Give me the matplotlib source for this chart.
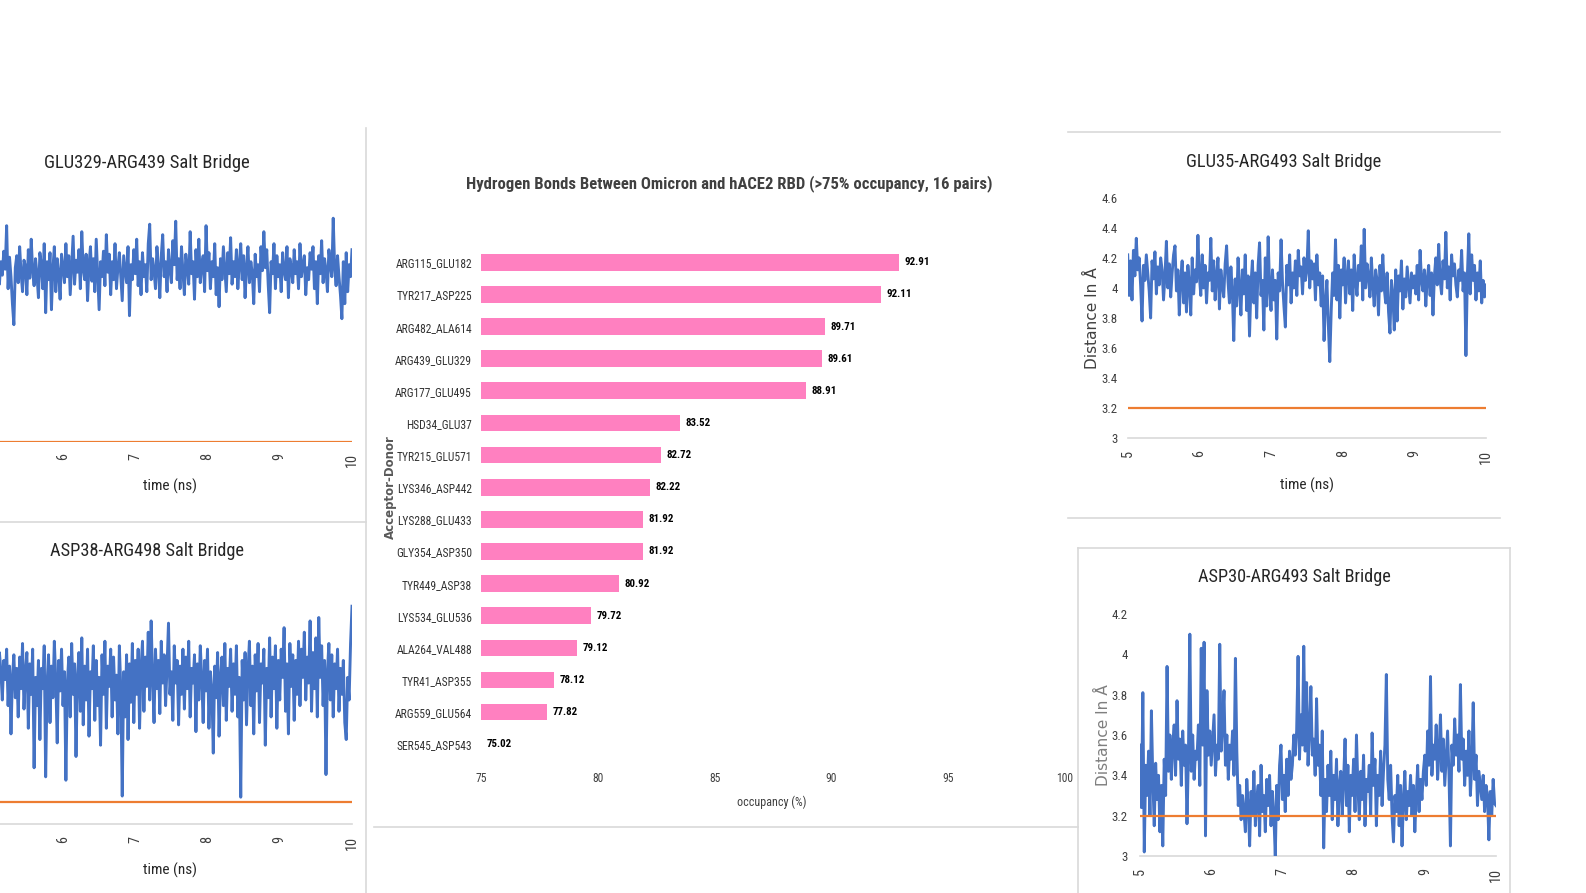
import matplotlib
matplotlib.use("Agg")
import matplotlib.pyplot as plt
from matplotlib import font_manager as fm
from matplotlib.lines import Line2D
import numpy as np

# ---------------------------------------------------------------- data
pairs = ["ARG115_GLU182", "TYR217_ASP225", "ARG482_ALA614", "ARG439_GLU329",
         "ARG177_GLU495", "HSD34_GLU37", "TYR215_GLU571", "LYS346_ASP442",
         "LYS288_GLU433", "GLY354_ASP350", "TYR449_ASP38", "LYS534_GLU536",
         "ALA264_VAL488", "TYR41_ASP355", "ARG559_GLU564", "SER545_ASP543"]
occupancy = [92.91, 92.11, 89.71, 89.61, 88.91, 83.52, 82.72, 82.22,
             81.92, 81.92, 80.92, 79.72, 79.12, 78.12, 77.82, 75.02]
occ_ticks = [75, 80, 85, 90, 95, 100]

time_ticks = [5, 6, 7, 8, 9, 10]
salt_cutoff = 3.2  # Å

# salt-bridge distances (Å), one sample every 20 ps from 5 to 10 ns
glu329_arg439 = [
    4.38, 4.52, 4.28, 4.45, 4.33, 4.56, 4.25, 4.40, 4.31, 4.47,
    4.35, 4.64, 4.22, 4.43, 4.30, 4.12, 3.98, 4.36, 4.44, 4.26,
    4.50, 4.32, 4.20, 4.41, 4.37, 4.18, 4.48, 4.29, 4.55, 4.34,
    4.24, 4.42, 4.31, 4.16, 4.46, 4.38, 4.22, 4.52, 4.06, 4.40,
    4.28, 4.46, 4.08, 4.35, 4.50, 4.20, 4.42, 4.32, 4.15, 4.45,
    4.36, 4.26, 4.52, 4.30, 4.44, 4.18, 4.38, 4.57, 4.25, 4.41,
    4.33, 4.48, 4.22, 4.60, 4.35, 4.28, 4.45, 4.14, 4.38, 4.50,
    4.27, 4.42, 4.20, 4.55, 4.32, 4.08, 4.40, 4.30, 4.47, 4.24,
    4.58, 4.33, 4.45, 4.18, 4.40, 4.28, 4.52, 4.22, 4.36, 4.46,
    4.30, 4.14, 4.44, 4.35, 4.26, 4.50, 4.04, 4.38, 4.28, 4.48,
    4.32, 4.55, 4.24, 4.40, 4.18, 4.46, 4.30, 4.38, 4.20, 4.52,
    4.65, 4.28, 4.42, 4.34, 4.22, 4.50, 4.36, 4.16, 4.44, 4.58,
    4.30, 4.40, 4.20, 4.48, 4.35, 4.26, 4.54, 4.38, 4.67, 4.28,
    4.42, 4.22, 4.50, 4.33, 4.18, 4.45, 4.36, 4.25, 4.60, 4.32,
    4.40, 4.15, 4.48, 4.30, 4.55, 4.26, 4.38, 4.44, 4.20, 4.64,
    4.34, 4.46, 4.22, 4.40, 4.30, 4.52, 4.18, 4.36, 4.10, 4.42,
    4.28, 4.50, 4.35, 4.20, 4.46, 4.32, 4.56, 4.25, 4.40, 4.30,
    4.48, 4.22, 4.38, 4.52, 4.28, 4.44, 4.16, 4.36, 4.50, 4.26,
    4.40, 4.32, 4.12, 4.45, 4.30, 4.38, 4.20, 4.50, 4.34, 4.60,
    4.36, 4.48, 4.25, 4.06, 4.40, 4.32, 4.52, 4.22, 4.44, 4.30,
    4.38, 4.20, 4.46, 4.34, 4.28, 4.50, 4.16, 4.42, 4.36, 4.26,
    4.48, 4.32, 4.40, 4.22, 4.52, 4.30, 4.38, 4.44, 4.18, 4.36,
    4.28, 4.46, 4.35, 4.50, 4.22, 4.40, 4.12, 4.44, 4.32, 4.54,
    4.26, 4.42, 4.34, 4.20, 4.48, 4.38, 4.30, 4.69, 4.36, 4.24,
    4.44, 4.30, 4.18, 4.02, 4.40, 4.12, 4.46, 4.20, 4.38, 4.30,
    4.48]

asp38_arg498 = [
    4.62, 4.30, 4.75, 4.48, 4.70, 4.15, 4.52, 4.36, 4.10, 4.45,
    4.28, 4.55, 4.05, 4.40, 3.80, 4.30, 4.50, 4.12, 4.38, 3.95,
    4.48, 4.20, 4.60, 4.02, 4.35, 4.52, 3.85, 4.42, 4.15, 4.55,
    3.50, 4.30, 4.05, 4.45, 3.75, 4.38, 4.20, 4.58, 3.42, 4.25,
    4.50, 3.90, 4.40, 4.12, 4.62, 4.28, 3.72, 4.45, 4.18, 4.55,
    4.05, 4.35, 3.39, 4.25, 4.48, 3.95, 4.60, 4.15, 4.42, 3.60,
    4.30, 4.52, 4.00, 4.65, 3.88, 4.40, 4.10, 4.55, 3.78, 4.35,
    4.20, 4.58, 3.92, 4.45, 4.05, 4.30, 3.70, 4.50, 4.15, 4.62,
    3.85, 4.40, 4.22, 4.55, 3.95, 4.48, 4.10, 4.32, 3.80, 4.58,
    4.20, 3.25, 4.35, 3.95, 4.50, 3.75, 4.42, 4.08, 4.60, 3.90,
    4.45, 4.15, 4.55, 3.85, 4.38, 4.62, 4.00, 4.48, 4.22, 4.70,
    4.10, 4.80, 4.30, 3.90, 4.55, 4.20, 4.45, 3.98, 4.62, 4.25,
    4.50, 4.05, 4.40, 4.78, 4.15, 4.35, 3.92, 4.58, 4.25, 4.45,
    3.88, 4.40, 4.15, 4.55, 4.02, 4.48, 4.20, 4.62, 3.95, 4.38,
    4.25, 4.50, 3.82, 4.42, 4.10, 4.58, 4.30, 3.90, 4.45, 4.18,
    4.55, 3.85, 4.35, 4.20, 3.63, 4.40, 4.12, 4.52, 3.78, 4.30,
    4.48, 4.05, 4.60, 3.92, 4.38, 4.22, 4.55, 4.00, 4.42, 4.15,
    4.58, 3.95, 4.30, 3.24, 4.45, 4.10, 4.52, 3.88, 4.35, 4.62,
    4.05, 4.40, 3.80, 4.50, 4.18, 4.60, 3.90, 4.42, 4.25, 4.55,
    3.70, 4.38, 4.12, 4.65, 3.95, 4.48, 4.20, 4.58, 3.85, 4.45,
    4.10, 4.55, 4.30, 4.74, 4.00, 4.42, 3.80, 4.60, 4.22, 4.50,
    3.92, 4.45, 4.15, 4.62, 4.05, 4.55, 4.30, 4.70, 4.10, 4.48,
    4.25, 4.80, 4.00, 4.52, 4.20, 4.65, 3.95, 4.83, 4.30, 4.58,
    4.05, 4.45, 3.44, 4.35, 4.60, 4.10, 4.50, 3.95, 4.42, 4.20,
    4.55, 4.00, 4.38, 4.15, 4.45, 3.90, 3.75, 4.30, 4.10, 4.60,
    4.93]

glu35_arg493 = [
    4.22, 3.95, 4.18, 3.92, 4.25, 4.08, 4.33, 4.12, 4.20, 4.02,
    3.78, 4.15, 4.05, 4.22, 4.10, 3.98, 3.80, 4.18, 4.06, 4.24,
    3.96, 4.14, 4.02, 4.20, 4.12, 3.92, 4.08, 4.31, 4.00, 4.16,
    3.94, 4.10, 4.22, 4.28, 3.98, 4.12, 3.82, 4.06, 4.18, 3.90,
    4.10, 3.84, 4.15, 4.02, 3.82, 4.20, 3.96, 4.12, 4.04, 4.35,
    4.08, 3.95, 4.22, 4.00, 4.15, 3.90, 4.10, 4.05, 4.33, 3.98,
    4.18, 3.92, 4.08, 4.20, 3.86, 4.12, 4.02, 3.94, 4.16, 4.28,
    4.04, 3.90, 4.14, 3.98, 3.65, 4.06, 3.88, 4.20, 4.00, 3.82,
    4.12, 3.96, 4.22, 3.85, 4.08, 3.68, 4.02, 4.18, 3.90, 4.10,
    3.80, 4.15, 4.30, 3.95, 4.05, 3.72, 4.20, 3.88, 4.34, 4.00,
    3.85, 4.12, 3.92, 4.05, 3.66, 4.10, 3.98, 4.32, 4.04, 3.88,
    3.74, 4.15, 4.02, 4.22, 3.90, 4.10, 4.00, 4.18, 3.95, 4.25,
    4.08, 4.14, 3.96, 4.20, 4.05, 4.12, 4.38, 4.00, 4.18, 4.06,
    4.16, 3.92, 4.22, 4.02, 4.10, 3.88, 4.08, 3.65, 3.90, 4.05,
    3.75, 3.51, 3.85, 4.10, 3.95, 4.32, 3.92, 4.15, 3.80, 4.12,
    4.02, 4.20, 3.90, 4.08, 4.18, 3.96, 4.12, 3.85, 4.22, 4.05,
    3.95, 4.15, 4.05, 4.28, 3.92, 4.39, 4.00, 4.16, 4.08, 3.94,
    4.20, 4.02, 3.88, 4.12, 4.05, 3.82, 4.15, 3.98, 4.22, 4.00,
    3.90, 4.10, 3.84, 3.70, 4.05, 3.95, 3.72, 4.12, 3.78, 4.08,
    3.98, 4.18, 3.86, 4.06, 3.94, 4.14, 4.02, 3.90, 4.10, 4.00,
    4.08, 3.96, 4.15, 3.92, 4.25, 4.05, 3.98, 4.12, 3.88, 4.06,
    4.15, 3.95, 4.10, 3.82, 4.08, 4.20, 4.02, 4.29, 4.05, 3.96,
    4.18, 4.06, 4.37, 4.00, 4.14, 3.92, 4.22, 4.08, 4.16, 4.02,
    3.94, 4.12, 4.05, 4.25, 3.98, 4.10, 3.55, 4.08, 4.36, 3.96,
    4.22, 4.05, 4.15, 3.92, 4.10, 3.98, 4.18, 3.90, 4.05, 3.94,
    4.02]

asp30_arg493 = [
    3.55, 3.24, 3.81, 3.02, 3.45, 3.30, 3.52, 3.20, 3.72, 3.38,
    3.15, 3.46, 3.28, 3.40, 3.12, 3.35, 3.05, 3.48, 3.30, 3.94,
    3.42, 3.60, 3.38, 3.55, 3.65, 3.40, 3.77, 3.48, 3.58, 3.35,
    3.62, 3.45, 3.55, 3.16, 3.50, 4.10, 3.42, 3.60, 3.38, 3.52,
    3.48, 3.65, 3.35, 4.03, 3.55, 4.06, 3.10, 3.82, 3.50, 3.62,
    3.45, 3.58, 3.70, 3.40, 3.55, 3.48, 4.05, 3.52, 3.65, 3.82,
    3.45, 3.60, 3.38, 3.55, 3.48, 3.62, 3.40, 3.98, 3.52, 3.25,
    3.35, 3.18, 3.30, 3.22, 3.12, 3.38, 3.25, 3.05, 3.32, 3.20,
    3.42, 3.15, 3.28, 3.35, 3.10, 3.45, 3.22, 3.30, 3.12, 3.38,
    3.25, 3.40, 3.15, 3.32, 3.20, 3.00, 3.35, 3.18, 3.45, 3.55,
    3.28, 3.40, 3.22, 3.48, 3.30, 3.52, 3.38, 3.45, 3.60, 3.50,
    3.62, 3.99, 3.48, 3.70, 3.55, 4.04, 3.52, 3.86, 3.45, 3.62,
    3.84, 3.50, 3.58, 3.40, 3.78, 3.45, 3.55, 3.30, 3.62, 3.04,
    3.38, 3.22, 3.45, 3.30, 3.52, 3.18, 3.40, 3.28, 3.48, 3.15,
    3.35, 3.42, 3.20, 3.38, 3.58, 3.25, 3.45, 3.12, 3.40, 3.30,
    3.48, 3.22, 3.60, 3.35, 3.18, 3.42, 3.28, 3.50, 3.15, 3.38,
    3.32, 3.45, 3.20, 3.61, 3.35, 3.48, 3.15, 3.40, 3.30, 3.52,
    3.25, 3.42, 3.55, 3.90, 3.38, 3.28, 3.45, 3.20, 3.07, 3.30,
    3.22, 3.40, 3.15, 3.35, 3.05, 3.28, 3.42, 3.18, 3.32, 3.25,
    3.40, 3.20, 3.35, 3.12, 3.30, 3.45, 3.22, 3.38, 3.28, 3.42,
    3.50, 3.35, 3.62, 3.45, 3.89, 3.40, 3.55, 3.48, 3.65, 3.38,
    3.52, 3.70, 3.42, 3.58, 3.35, 3.48, 3.62, 3.40, 3.05, 3.55,
    3.45, 3.68, 3.50, 3.60, 3.42, 3.85, 3.48, 3.58, 3.35, 3.52,
    3.40, 3.62, 3.30, 3.45, 3.76, 3.38, 3.50, 3.25, 3.42, 3.35,
    3.28, 3.40, 3.22, 3.35, 3.30, 3.08, 3.32, 3.20, 3.38, 3.26,
    3.25]

# ---------------------------------------------------------------- style
W, H = 1586, 893
BLUE = "#4472C4"
ORANGE = "#ED7D31"
PINK = "#FF80C0"
RULE = "#D9D9D9"
WIDE = "DejaVu Sans"


def pick_narrow():
    """Narrowest sans family available, with the stretch to request."""
    fonts = fm.fontManager.ttflist
    names = {f.name for f in fonts}
    for cand in ("Liberation Sans Narrow", "Roboto Condensed",
                 "Noto Sans Condensed", "Open Sans Condensed",
                 "DejaVu Sans Condensed"):
        if cand in names:
            return cand, "normal"
    for fam in ("Roboto", "Noto Sans", "Open Sans", "DejaVu Sans"):
        for f in fonts:
            if f.name == fam and str(f.stretch) in ("condensed", "semi-condensed",
                                                    "extra-condensed"):
                return fam, "condensed"
    return "Lato", "normal"


NARROW, NSTRETCH = pick_narrow()
NKW = dict(family=NARROW, fontstretch=NSTRETCH)

fig = plt.figure(figsize=(W / 100, H / 100), dpi=100)
fig.patch.set_facecolor("white")
renderer = fig.canvas.get_renderer()


def fit(s, width_px, grow=1.0, **kw):
    """Font size (pt) at which string s is width_px pixels wide, times grow."""
    t = fig.text(0, 0, s, fontsize=20, **kw)
    w = t.get_window_extent(renderer).width
    t.remove()
    return 20 * width_px / w * grow


def rect(left, top, right, bottom):
    """Axes rectangle from pixel edges (origin at top-left)."""
    return [left / W, 1 - bottom / H, (right - left) / W, (bottom - top) / H]


def ftext(x, y, s, **kw):
    fig.text(x / W, 1 - y / H, s, ha="center", va="center", **kw)


def rule(x0, y0, x1, y1):
    fig.add_artist(Line2D([x0 / W, x1 / W], [1 - y0 / H, 1 - y1 / H],
                          transform=fig.transFigure, color=RULE, lw=1.2))


TICK_SIZE = fit("10", 14, **NKW)
YTICK_SIZE = fit("4.6", 15, grow=1.08, **NKW)


def salt_panel(box, ylim, yticks, values, xticks, axis_line=True,
               ylabels=True, ypad=8):
    ax = fig.add_axes(rect(*box))
    t = np.linspace(5, 10, len(values))
    ax.plot(t, values, color=BLUE, lw=2.1, solid_joinstyle="round", zorder=3)
    ax.plot([5, 10], [salt_cutoff, salt_cutoff], color=ORANGE, lw=1.6, zorder=4)
    ax.set_xlim(5, 10)
    ax.set_ylim(*ylim)
    for s in ("top", "right", "left"):
        ax.spines[s].set_visible(False)
    ax.spines["bottom"].set_color(RULE)
    ax.spines["bottom"].set_linewidth(1.2)
    ax.spines["bottom"].set_visible(axis_line)
    ax.set_xticks(xticks)
    ax.set_xticklabels([str(v) for v in xticks], rotation=90,
                       fontsize=TICK_SIZE, color="#404040", **NKW)
    ax.set_yticks(yticks)
    if ylabels:
        ax.set_yticklabels([f"{v:g}" for v in yticks], fontsize=YTICK_SIZE,
                           color="#404040", **NKW)
    else:
        ax.set_yticklabels([])
    ax.tick_params(axis="x", length=0, pad=8.3)
    ax.tick_params(axis="y", length=0, pad=ypad)
    ax.patch.set_alpha(0)
    return ax


ticks_a = [3.2, 3.4, 3.6, 3.8, 4.0, 4.2, 4.4, 4.6, 4.8]
ticks_b = [3.0, 3.2, 3.4, 3.6, 3.8, 4.0, 4.2, 4.4, 4.6, 4.8, 5.0]
ticks_c = [3.0, 3.2, 3.4, 3.6, 3.8, 4.0, 4.2, 4.4, 4.6]
ticks_d = [3.0, 3.2, 3.4, 3.6, 3.8, 4.0, 4.2]

# left column (its value axis lies outside the canvas)
salt_panel((-9.25, 201.7, 352, 441.7), (3.2, 4.8), ticks_a, glu329_arg439,
           time_ticks[1:], axis_line=False, ylabels=False)
salt_panel((-9.25, 598.3, 352, 824.3), (3.0, 5.0), ticks_b, asp38_arg498,
           time_ticks[1:], ylabels=False)

# right column
salt_panel((1127.7, 197.7, 1486, 438.3), (3.0, 4.6), ticks_c, glu35_arg493,
           time_ticks, ypad=7.2)
salt_panel((1140, 614, 1496, 856), (3.0, 4.2), ticks_d, asp30_arg493,
           time_ticks, ypad=8.9)

TITLE_COLOR = "#262626"
for (x, y, s, w) in [(147, 163, "GLU329-ARG439 Salt Bridge", 191),
                     (147, 551, "ASP38-ARG498 Salt Bridge", 180),
                     (1284, 162, "GLU35-ARG493 Salt Bridge", 181),
                     (1294, 577, "ASP30-ARG493 Salt Bridge", 179)]:
    ftext(x, y, s, fontsize=fit(s, w, grow=1.08, **NKW), color=TITLE_COLOR,
          **NKW)

XL_SIZE = fit("time (ns)", 47, grow=1.15, **NKW)
ftext(170, 486, "time (ns)", fontsize=XL_SIZE, color=TITLE_COLOR, **NKW)
ftext(170, 870, "time (ns)", fontsize=XL_SIZE, color=TITLE_COLOR, **NKW)
ftext(1307, 485, "time (ns)", fontsize=XL_SIZE, color=TITLE_COLOR, **NKW)

DIST_SIZE = fit("Distance In Å", 102, family=WIDE)
ftext(1092, 318, "Distance In Å", family=WIDE, fontsize=DIST_SIZE,
      color="#404040", rotation=90)
ftext(1103, 735, "Distance In Å", family=WIDE, fontsize=DIST_SIZE,
      color="#7F7F7F", rotation=90)

# ---------------------------------------------------------------- bar chart
n = len(pairs)
row_h = 32.13
top_px = 262.3 - row_h / 2
bot_px = top_px + row_h * n
axb = fig.add_axes(rect(481, top_px, 1065, bot_px))
ypos = np.arange(n)
bars = axb.barh(ypos, [v - occ_ticks[0] for v in occupancy],
                left=occ_ticks[0], height=0.52, color=PINK)
VAL_SIZE = fit("92.91", 22, grow=1.15, fontweight="bold", **NKW)
axb.bar_label(bars, labels=[f"{v:.2f}" for v in occupancy], padding=4,
              fontsize=VAL_SIZE, fontweight="bold", color="black", **NKW)
axb.set_xlim(occ_ticks[0], occ_ticks[-1])
axb.set_ylim(n - 0.5, -0.5)
axb.set_yticks(ypos)
CAT_SIZE = fit("ARG115_GLU182", 70, grow=1.1, **NKW)
axb.set_yticklabels(pairs, fontsize=CAT_SIZE, color="#333333", **NKW)
axb.set_xticks(occ_ticks)
OCC_SIZE = fit("75", 10, grow=1.15, **NKW)
axb.set_xticklabels([str(v) for v in occ_ticks], fontsize=OCC_SIZE,
                    color="#404040", **NKW)
axb.tick_params(axis="y", length=0, pad=6.5)
axb.tick_params(axis="x", length=0, pad=8.5)
for s in axb.spines.values():
    s.set_visible(False)
axb.patch.set_alpha(0)

BT = "Hydrogen Bonds Between Omicron and hACE2 RBD (>75% occupancy, 16 pairs)"
ftext(729, 184, BT, fontsize=fit(BT, 523, fontweight="bold", **NKW),
      fontweight="bold", color="#404040", **NKW)
ftext(772, 802, "occupancy (%)",
      fontsize=fit("occupancy (%)", 63, grow=1.1, **NKW),
      color="#404040", **NKW)
ftext(390, 487, "Acceptor-Donor", family=WIDE,
      fontsize=fit("Acceptor-Donor", 104, family=WIDE, fontweight="bold"),
      fontweight="bold", color="#595959", rotation=90)

# ---------------------------------------------------------------- panel rules
rule(366, 128, 366, 893)
rule(0, 521.7, 366, 521.7)
rule(374, 827.3, 1078, 827.3)
rule(1068, 132.3, 1500, 132.3)
rule(1068, 518.3, 1500, 518.3)
rule(1078, 547.5, 1509.5, 547.5)
rule(1078, 547.5, 1078, 893)
rule(1509.5, 547.5, 1509.5, 893)

fig.savefig("out.png", dpi=100, facecolor="white")
